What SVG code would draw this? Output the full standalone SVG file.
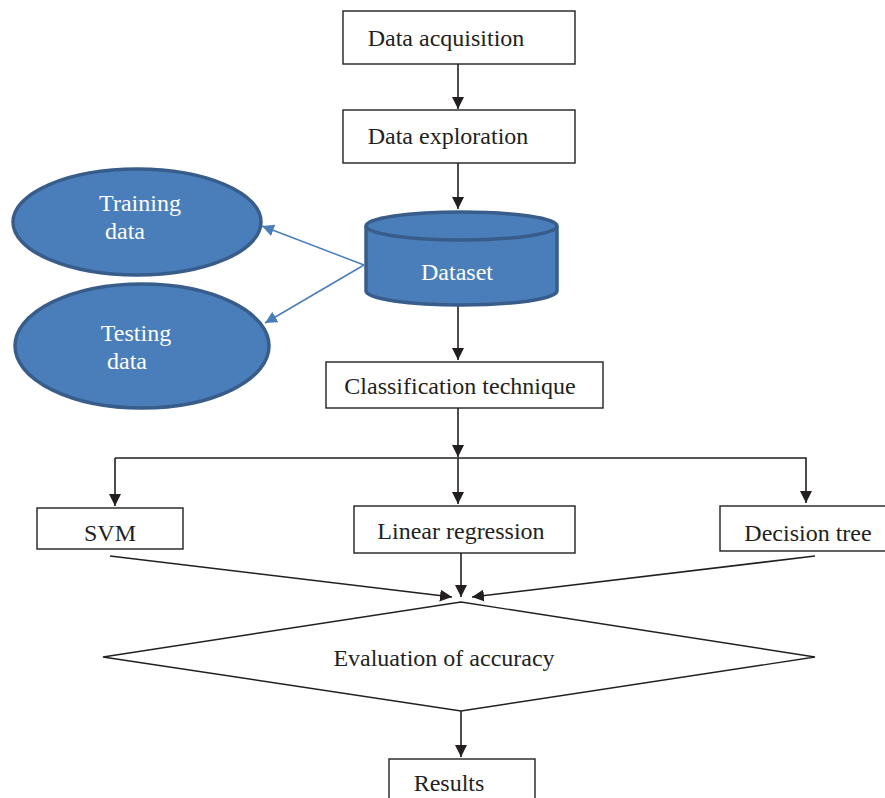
<svg xmlns="http://www.w3.org/2000/svg" width="885" height="798" viewBox="0 0 885 798">
<defs>
<style>
.box{fill:#fff;stroke:#231f20;stroke-width:1.4}
.t{font-family:"Liberation Serif","Times New Roman",serif;font-size:24px;fill:#231f20;text-anchor:middle}
.w{font-family:"Liberation Serif","Times New Roman",serif;font-size:24px;fill:#fff;text-anchor:middle}
.blue{fill:#4a7ebb;stroke:#385d8a;stroke-width:3.5}
.c{stroke:#231f20;stroke-width:1.6;fill:none}
.cb{stroke:#4a7ebb;stroke-width:1.5;fill:none}
</style>
<marker id="ah" viewBox="0 0 12 12" refX="12" refY="6" markerWidth="12" markerHeight="12" markerUnits="userSpaceOnUse" orient="auto"><path d="M0,0 L12,6 L0,12 Z" fill="#231f20"/></marker>
<marker id="ahb" viewBox="0 0 12 12" refX="12" refY="6" markerWidth="12" markerHeight="12" markerUnits="userSpaceOnUse" orient="auto"><path d="M0,0 L12,6 L0,12 Z" fill="#4a7ebb"/></marker>
</defs>
<rect width="885" height="798" fill="#fff"/>
<g id="connectors">
<line class="c" x1="458" y1="64" x2="458" y2="109" marker-end="url(#ah)"/>
<line class="c" x1="458" y1="163" x2="458" y2="209" marker-end="url(#ah)"/>
<line class="cb" x1="364" y1="265" x2="262" y2="226" marker-end="url(#ahb)"/>
<line class="cb" x1="364" y1="265" x2="265" y2="323" marker-end="url(#ahb)"/>
<line class="c" x1="458" y1="306" x2="458" y2="360" marker-end="url(#ah)"/>
<line class="c" x1="458" y1="408" x2="458" y2="457" marker-end="url(#ah)"/>
<polyline class="c" points="115,458 806,458 806,503" marker-end="url(#ah)"/>
<line class="c" x1="115" y1="458" x2="115" y2="506" marker-end="url(#ah)"/>
<line class="c" x1="458" y1="458" x2="458" y2="504" marker-end="url(#ah)"/>
<line class="c" x1="110" y1="556" x2="452" y2="597" marker-end="url(#ah)"/>
<line class="c" x1="461" y1="553" x2="461" y2="597" marker-end="url(#ah)"/>
<line class="c" x1="815" y1="556" x2="472" y2="597" marker-end="url(#ah)"/>
<line class="c" x1="461" y1="711" x2="461" y2="757" marker-end="url(#ah)"/>
</g>
<g id="data-acquisition"><rect class="box" x="343" y="11" width="232" height="53"/><text class="t" x="446" y="46">Data acquisition</text></g>
<g id="data-exploration"><rect class="box" x="343" y="110" width="232" height="53"/><text class="t" x="448" y="144">Data exploration</text></g>
<g id="dataset">
<path class="blue" d="M366,226 A95.5,14 0 0 1 557,226 L557,291 A95.5,14 0 0 1 366,291 Z"/>
<path class="blue" fill="none" d="M366,226 A95.5,14 0 0 0 557,226"/>
<text class="w" x="457" y="280">Dataset</text>
</g>
<g id="training-data"><ellipse class="blue" cx="137" cy="222" rx="124" ry="53"/><text class="w" x="140" y="211">Training</text><text class="w" x="125" y="239">data</text></g>
<g id="testing-data"><ellipse class="blue" cx="142" cy="346" rx="127" ry="62"/><text class="w" x="136" y="341">Testing</text><text class="w" x="127" y="369">data</text></g>
<g id="classification"><rect class="box" x="326" y="362" width="277" height="46"/><text class="t" x="460" y="394">Classification technique</text></g>
<g id="svm"><rect class="box" x="37" y="508" width="146" height="41"/><text class="t" x="110" y="541">SVM</text></g>
<g id="linear-regression"><rect class="box" x="354" y="506" width="221" height="47"/><text class="t" x="461" y="539">Linear regression</text></g>
<g id="decision-tree"><rect class="box" x="720" y="506" width="170" height="45"/><text class="t" x="808" y="541">Decision tree</text></g>
<g id="evaluation"><polygon class="box" points="461,602 815,657 461,711 103,657"/><text class="t" x="444" y="666">Evaluation of accuracy</text></g>
<g id="results"><rect class="box" x="389" y="759" width="146" height="50"/><text class="t" x="449" y="791">Results</text></g>
</svg>
